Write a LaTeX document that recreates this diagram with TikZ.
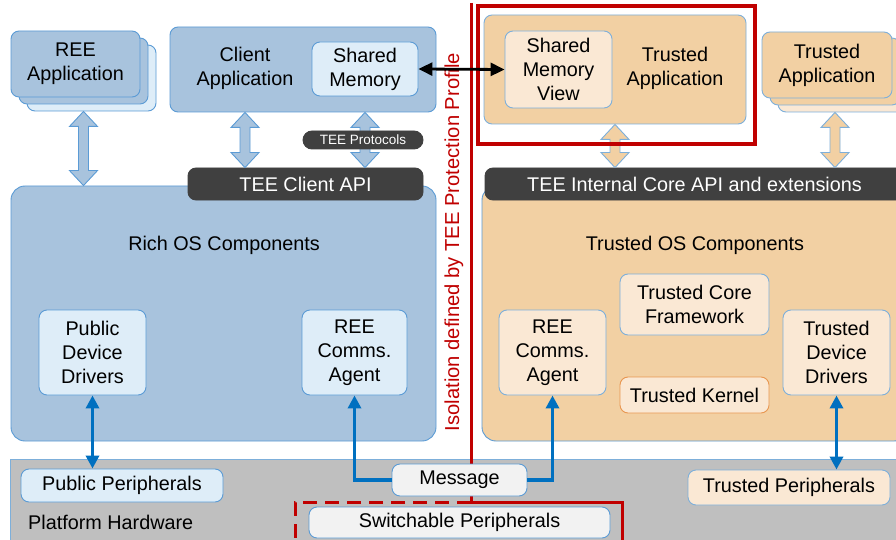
\documentclass[tikz,border=0pt]{standalone}
\usepackage{fontspec}
\setmainfont{Liberation Sans}
\usetikzlibrary{arrows.meta,calc}
\definecolor{bfill}{RGB}{168,195,221}
\definecolor{lbfill}{RGB}{222,237,248}
\definecolor{bline}{RGB}{91,155,213}
\definecolor{ofill}{RGB}{242,208,163}
\definecolor{lofill}{RGB}{250,232,212}
\definecolor{oline}{RGB}{125,175,218}
\definecolor{kline}{RGB}{232,150,80}
\definecolor{darkbar}{RGB}{64,64,64}
\definecolor{platgray}{RGB}{191,191,191}
\definecolor{msgfill}{RGB}{242,242,242}
\definecolor{isored}{RGB}{192,0,0}
\definecolor{arrblue}{RGB}{0,112,192}
\newcommand\fs{\fontsize{19.8}{24}\selectfont}
\newcommand\fatarrow[3]{\path[#1] let \p1=#2, \p2=#3 in (\x1,\y1) -- (\x1+14pt,\y1-15pt) -- (\x1+5pt,\y1-15pt) -- (\x1+5pt,\y2+15pt) -- (\x1+14pt,\y2+15pt) -- (\x1,\y2) -- (\x1-14pt,\y2+15pt) -- (\x1-5pt,\y2+15pt) -- (\x1-5pt,\y1-15pt) -- (\x1-14pt,\y1-15pt) -- cycle;}
\begin{document}
\begin{tikzpicture}[x=1pt,y=-1pt,
  box/.style={draw=bline, line width=0.9pt, rounded corners=8pt, inner sep=0pt, align=center, font=\fs},
  bigbox/.style={box, rounded corners=14pt},
  bluebox/.style={box, fill=bfill},
  lbox/.style={box, fill=lbfill},
  obox/.style={box, draw=oline, fill=ofill},
  lobox/.style={box, draw=oline, fill=lofill},
  darkbox/.style={box, draw=darkbar, fill=darkbar, text=white},
  txt/.style={inner sep=0pt, align=center, font=\fs},
  fatblue/.style={fill=bfill, draw=bline, line width=0.9pt},
  fatorange/.style={fill=ofill, draw=oline, line width=0.9pt},
  bluearrow/.style={draw=arrblue, line width=3.5pt, -{Triangle[width=13pt,length=13pt]}},
  bluedbl/.style={draw=arrblue, line width=3.5pt, {Triangle[width=13pt,length=13pt]}-{Triangle[width=13pt,length=13pt]}},
  redline/.style={draw=isored, line width=3pt}
]
\useasboundingbox (0,0) rectangle (896,540);
\clip (0,0) rectangle (896,540);
\fill[white] (0,0) rectangle (896,540);

% ---------- REE side, top ----------
\node[lbox, minimum width=129pt, minimum height=66pt] (reeapp3) at (91.5,78) {};
\node[bluebox, minimum width=129pt, minimum height=66pt] (reeapp2) at (83.5,71) {};
\node[bluebox, minimum width=129pt, minimum height=66pt] (reeapp) at (75.5,64) {REE\\Application};

\node[bluebox, minimum width=266pt, minimum height=85pt] (clientapp) at (303,69.5) {};
\node[txt] (cl) at (245,68) {Client\\Application};
\node[lbox, minimum width=106pt, minimum height=54pt] (shmem) at (365,69) {Shared\\Memory};

% ---------- Rich OS ----------
\node[bluebox, bigbox, minimum width=425pt, minimum height=255pt] (richos) at (223.5,313.5) {};
\node[txt] (richlbl) at (224,245) {Rich OS Components};
\node[darkbox, minimum width=235pt, minimum height=32pt] (clientapi) at (305.5,184) {TEE Client API};
\node[lbox, minimum width=107pt, minimum height=85pt] (pdd) at (92.5,352.5) {Public\\Device\\Drivers};
\node[lbox, minimum width=105pt, minimum height=85pt] (reca) at (354.5,352.5) {REE\\Comms.\\Agent};

% fat arrows REE side
\coordinate (reemid) at ($(reeapp.south)!.5!(reeapp3.south)$);
\fatarrow{fatblue}{(reemid |- reeapp3.south)}{(richos.north)}
\fatarrow{fatblue}{(cl |- clientapp.south)}{(clientapi.north)}
\fatarrow{fatblue}{(shmem |- clientapp.south)}{(clientapi.north)}
\node[darkbox, rounded corners=9pt, minimum width=120pt, minimum height=18pt, font=\fontsize{13.5}{15}\selectfont] (proto) at (363,140) {TEE Protocols};

% ---------- TEE side, top ----------
\node[obox, minimum width=262pt, minimum height=109pt] (trustapp) at (615,69.5) {};
\node[txt] (tatext) at (675,68) {Trusted\\Application};
\node[lobox, minimum width=107pt, minimum height=77pt] (smv) at (558.5,69.5) {Shared\\Memory\\View};

\node[lobox, minimum width=130pt, minimum height=67pt] (ta3) at (843,78.5) {};
\node[obox, minimum width=130pt, minimum height=67pt] (ta2) at (835,71.5) {};
\node[obox, minimum width=130pt, minimum height=66pt] (ta) at (827,65) {Trusted\\Application};

% ---------- Trusted OS ----------
\node[obox, bigbox, minimum width=426pt, minimum height=255pt] (trustos) at (695,313.5) {};
\node[txt] (toslbl) at (695,245) {Trusted OS Components};
\node[darkbox, minimum width=419pt, minimum height=32pt] (coreapi) at (694.5,184) {TEE Internal Core API and extensions};
\node[lobox, minimum width=149pt, minimum height=61pt] (tcf) at (694.5,304.5) {Trusted Core\\Framework};
\node[lobox, minimum width=107pt, minimum height=85pt] (tra) at (552.5,352.5) {REE\\Comms.\\Agent};
\node[lobox, draw=kline, minimum width=149pt, minimum height=36pt] (tk) at (694.5,395) {Trusted Kernel};
\node[lobox, minimum width=107pt, minimum height=85pt] (tdd) at (836.5,352.5) {Trusted\\Device\\Drivers};

\fatarrow{fatorange}{(trustapp.south)}{(coreapi.north)}
\coordinate (tamid) at ($(ta.south)!.5!(ta3.south)$);
\fatarrow{fatorange}{(tamid |- ta3.south)}{(coreapi.north)}

\node[draw=isored, line width=3.5pt, minimum width=277pt, minimum height=138pt, inner sep=0pt] (redbox) at (616.5,75) {};

% ---------- Platform hardware ----------
\node[draw=oline, line width=0.9pt, fill=platgray, minimum width=900pt, minimum height=95pt, inner sep=0pt, anchor=north west] (platform) at (10,459) {};
\node[txt, anchor=west] (plattxt) at (28,522) {Platform Hardware};

% isolation line
\coordinate (isotop) at (471,3);
\coordinate (isobot) at (471,502);
\coordinate (dashl) at (295,502);
\coordinate (dashlb) at (295,545);
\coordinate (solr) at (622,502);
\coordinate (solrb) at (622,545);
\draw[redline] (isotop) -- (isobot);
\draw[redline, dash pattern=on 14pt off 8pt] (isobot) -- (dashl) -- (dashlb);
\draw[redline] (isobot) -- (solr) -- (solrb);
\node[txt, rotate=90, text=isored, font=\fontsize{20.2}{24}\selectfont] (iso) at (454,242) {Isolation defined by TEE Protection Profile};

\node[lbox, minimum width=202pt, minimum height=33pt] (pubper) at (122,485.5) {Public Peripherals};
\node[box, fill=msgfill, minimum width=135pt, minimum height=32pt] (msg) at (459.5,480) {Message};
\node[box, fill=msgfill, minimum width=301pt, minimum height=31pt] (swper) at (459.5,522.5) {Switchable Peripherals};
\node[lobox, minimum width=202pt, minimum height=35pt] (tper) at (789,487.5) {Trusted Peripherals};

% ---------- connectors ----------
\draw[bluedbl] (pdd.south) -- (pdd |- pubper.north);
\draw[bluearrow] (msg.west) -| (reca.south);
\draw[bluearrow] (msg.east) -| (tra.south);
\draw[bluedbl] (tdd.south) -- (tdd |- tper.north);
\draw[line width=2.8pt, {Triangle[width=13pt,length=14pt]}-{Triangle[width=13pt,length=14pt]}] (shmem.east) -- (smv.west);
\end{tikzpicture}
\end{document}
